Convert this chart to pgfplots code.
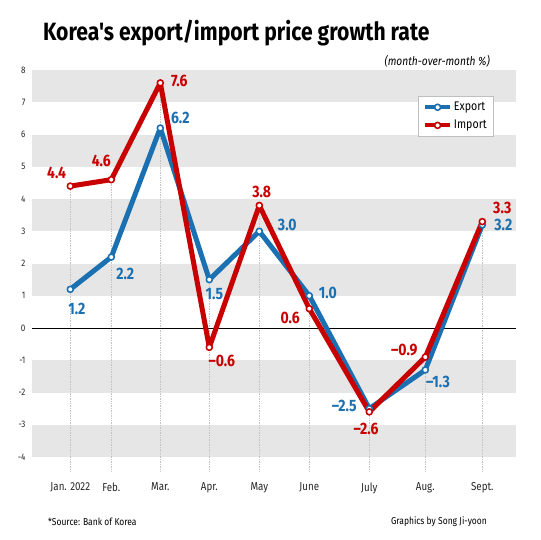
\documentclass[border=0pt]{standalone}
\usepackage{pgfplots}
\pgfplotsset{compat=1.18}
\usepackage{pgfplotstable}
\usepackage{fontspec}
\setmainfont{Fira Sans}[FakeStretch=0.85]
\newfontfamily\titlefont{Fira Sans}[FakeStretch=0.845]

\definecolor{expblue}{RGB}{27,112,178}
\definecolor{impred}{RGB}{200,0,0}
\definecolor{band}{RGB}{230,230,230}
\definecolor{dotgray}{RGB}{195,195,195}

% month position, value, label text, label offset (pt)
\pgfplotstableread{
x     v     lab    dx    dy
70.3  1.2   1.2    6.6  -19.3
111.3 2.2   2.2    14   -16.7
160.3 6.2   6.2    20    10
209.3 1.5   1.5    5    -14
259.3 3.0   3.0    28    6
309.3 1.0   1.0    18.5  2.7
369.3 -2.5  --2.5 -25    2.7
425.3 -1.3  --1.3  12.7 -11.6
482.3 3.2   3.2    21    0
}\exportdata

\pgfplotstableread{
x     v     lab    dx    dy
70.3  4.4   4.4   -13.7  13.5
111.3 4.6   4.6   -10    18.4
160.3 7.6   7.6    19    1.7
209.3 -0.6  --0.6  12.5 -13.4
259.3 3.8   3.8    2.4   14
309.3 0.6   0.6   -19   -9
369.3 -2.6  --2.6 -3.3  -16.7
425.3 -0.9  --0.9 -21    7.3
482.3 3.3   3.3    20    14
}\importdata

\begin{document}
\begin{tikzpicture}
\path (0pt,0pt) rectangle (540pt,-540pt);

\begin{axis}[
  at={(32pt,-457pt)}, anchor=south west,
  scale only axis, width=484pt, height=387pt,
  xmin=32, xmax=516, ymin=-4, ymax=8,
  clip=false,
  axis line style={draw=none},
  major tick length=0pt,
  /pgf/number format/assume math mode=true,
  ytick={-4,-3,...,8},
  yticklabel style={font=\fontsize{9.5}{10}\selectfont, text=black!85, xshift=-3pt},
  xtick={70.3,111.3,160.3,209.3,259.3,309.3,369.3,425.3,482.3},
  xticklabels={Jan. 2022, Feb., Mar., Apr., May, June, July, Aug., Sept.},
  xticklabel style={font=\fontsize{11.5}{12}\selectfont, text=black!85, yshift=-22pt},
  legend style={at={(0.7975,0.9328)}, anchor=north west, draw=black!25,
    fill=white, font=\fontsize{12.5}{13}\selectfont, inner xsep=5pt,
    inner ysep=4pt, row sep=4pt, cells={anchor=west}},
  legend image code/.code={\draw[#1, mark repeat=2, mark phase=2]
    plot coordinates {(0pt,0pt) (12.5pt,0pt) (25pt,0pt)};},
]
% alternating background bands
\fill[band] (axis cs:32,7) rectangle (axis cs:516,8);
\fill[band] (axis cs:32,5) rectangle (axis cs:516,6);
\fill[band] (axis cs:32,3) rectangle (axis cs:516,4);
\fill[band] (axis cs:32,1) rectangle (axis cs:516,2);
\fill[band] (axis cs:32,-2) rectangle (axis cs:516,-1);
\fill[band] (axis cs:32,-4) rectangle (axis cs:516,-3);
% month guides
\draw[dotgray, densely dotted, line width=0.7pt] (axis cs:70.3,-4.45) -- (axis cs:70.3,4.4);
\draw[dotgray, densely dotted, line width=0.7pt] (axis cs:111.3,-4.45) -- (axis cs:111.3,4.6);
\draw[dotgray, densely dotted, line width=0.7pt] (axis cs:160.3,-4.45) -- (axis cs:160.3,7.6);
\draw[dotgray, densely dotted, line width=0.7pt] (axis cs:209.3,-4.45) -- (axis cs:209.3,1.5);
\draw[dotgray, densely dotted, line width=0.7pt] (axis cs:259.3,-4.45) -- (axis cs:259.3,3.8);
\draw[dotgray, densely dotted, line width=0.7pt] (axis cs:309.3,-4.45) -- (axis cs:309.3,1.0);
\draw[dotgray, densely dotted, line width=0.7pt] (axis cs:369.3,-4.45) -- (axis cs:369.3,-2.5);
\draw[dotgray, densely dotted, line width=0.7pt] (axis cs:425.3,-4.45) -- (axis cs:425.3,-0.9);
\draw[dotgray, densely dotted, line width=0.7pt] (axis cs:482.3,-4.45) -- (axis cs:482.3,3.3);
% zero line
\draw[black, line width=0.8pt] (axis cs:32,0) -- (axis cs:516,0);

\addlegendimage{expblue, line width=3.8pt, mark=*, mark size=3pt,
  mark options={fill=white, draw=expblue, line width=1.6pt}}
\addlegendentry{Export}
\addlegendimage{impred, line width=3.8pt, mark=*, mark size=3pt,
  mark options={fill=white, draw=impred, line width=1.6pt}}
\addlegendentry{Import}

\addplot[forget plot, expblue, line width=5pt, line join=round,
  mark=*, mark size=3pt,
  mark options={fill=white, draw=expblue, line width=1.6pt},
  nodes near coords, point meta=explicit symbolic,
  visualization depends on={\thisrow{dx}\as\dx},
  visualization depends on={\thisrow{dy}\as\dy},
  every node near coord/.append style={anchor=center, text=expblue,
    font=\bfseries\fontsize{16.5}{17}\selectfont,
    xshift=\dx pt, yshift=\dy pt}]
  table[x=x, y=v, meta=lab] {\exportdata};

\addplot[forget plot, impred, line width=5pt, line join=round,
  mark=*, mark size=3pt,
  mark options={fill=white, draw=impred, line width=1.6pt},
  nodes near coords, point meta=explicit symbolic,
  visualization depends on={\thisrow{dx}\as\dx},
  visualization depends on={\thisrow{dy}\as\dy},
  every node near coord/.append style={anchor=center, text=impred,
    font=\bfseries\fontsize{16.5}{17}\selectfont,
    xshift=\dx pt, yshift=\dy pt}]
  table[x=x, y=v, meta=lab] {\importdata};
\end{axis}

\node[anchor=base west, inner sep=0pt] at (43pt,-41pt)
  {\titlefont\bfseries\fontsize{25}{26}\selectfont Korea's export/import price growth rate};
\node[anchor=east, inner sep=0pt] at (490pt,-61pt)
  {\itshape\fontsize{12}{12}\selectfont (month-over-month \%)};
\node[anchor=west, inner sep=0pt] at (48pt,-522pt)
  {\fontsize{10}{11}\selectfont *Source: Bank of Korea};
\node[anchor=east, inner sep=0pt] at (487pt,-522pt)
  {\fontsize{10}{11}\selectfont Graphics by Song Ji-yoon};
\end{tikzpicture}
\end{document}
